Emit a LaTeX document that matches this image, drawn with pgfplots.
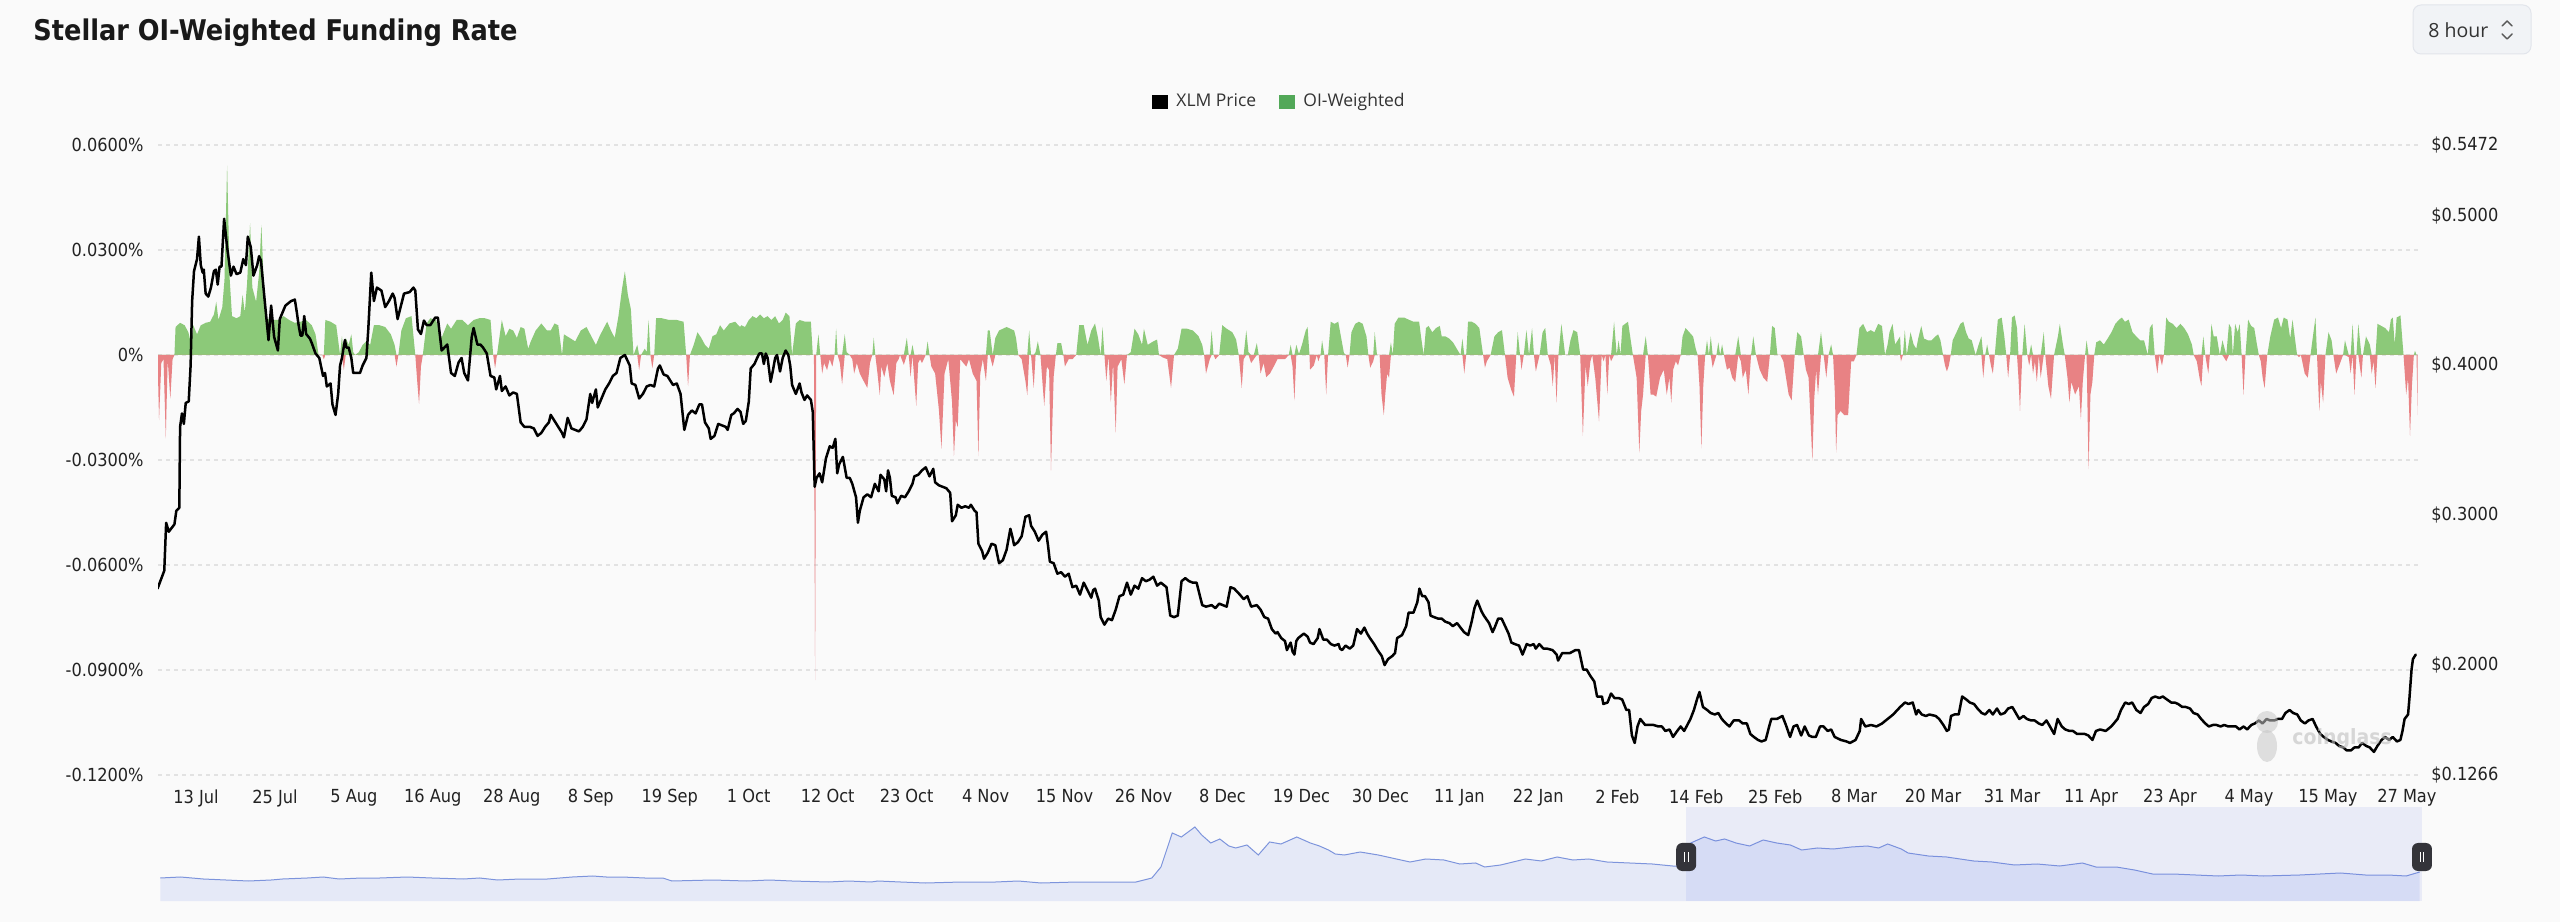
\documentclass[border=0pt]{standalone}
\usepackage{pgfplots}
\pgfplotsset{compat=1.18}
\usepackage{pgfplotstable}
\usepackage{fontspec}
\setmainfont{DejaVuSansCondensed}[Extension=.ttf, BoldFont=DejaVuSansCondensed-Bold]
\newfontfamily\legfont{Open Sans}
\definecolor{bgc}{RGB}{250,250,250}
\definecolor{gridc}{RGB}{226,226,226}
\definecolor{tickc}{RGB}{34,34,34}
\definecolor{greenc}{RGB}{140,201,121}
\definecolor{redc}{RGB}{232,130,132}
\definecolor{leggreen}{RGB}{82,168,88}
\definecolor{legtext}{RGB}{51,51,51}
\definecolor{navline}{RGB}{125,148,220}
\definecolor{navfill}{RGB}{229,233,247}
\definecolor{navsel}{RGB}{100,120,230}
\definecolor{handlec}{RGB}{52,52,58}
\definecolor{btnfill}{RGB}{241,243,246}
\definecolor{btndraw}{RGB}{226,229,235}

\pgfplotstableread{
d p
-5.52 0.251
-4.55 0.263
-4.28 0.295
-3.90 0.289
-3.09 0.294
-2.82 0.303
-2.39 0.305
-2.28 0.359
-2.01 0.368
-1.74 0.361
-1.47 0.375
-1.04 0.376
-0.77 0.400
-0.55 0.443
-0.28 0.463
0.15 0.471
0.42 0.486
0.69 0.467
0.96 0.462
1.12 0.464
1.39 0.448
1.77 0.446
2.15 0.452
2.58 0.463
2.85 0.464
3.12 0.454
3.39 0.466
3.66 0.466
4.04 0.498
4.47 0.479
5.01 0.460
5.39 0.466
5.82 0.461
6.36 0.462
6.79 0.471
7.17 0.467
7.44 0.486
7.87 0.479
8.25 0.460
8.79 0.467
9.06 0.473
9.33 0.470
9.87 0.443
10.41 0.417
10.79 0.440
11.22 0.419
11.76 0.410
12.03 0.431
12.84 0.440
13.65 0.443
14.19 0.444
14.46 0.436
14.73 0.427
15.00 0.420
15.27 0.420
15.54 0.433
15.81 0.421
16.35 0.418
16.62 0.415
17.16 0.408
17.70 0.405
18.24 0.393
18.52 0.395
18.78 0.386
19.32 0.388
19.59 0.374
20.03 0.367
20.41 0.381
20.68 0.400
20.95 0.405
21.38 0.417
21.59 0.412
21.92 0.412
22.30 0.405
22.57 0.395
23.11 0.395
23.54 0.395
23.92 0.400
24.46 0.405
24.73 0.424
25.16 0.462
25.54 0.443
25.97 0.452
26.62 0.450
27.16 0.439
27.70 0.443
28.24 0.448
28.51 0.445
28.94 0.431
29.32 0.438
29.86 0.448
30.67 0.449
31.21 0.452
31.48 0.450
31.86 0.424
32.29 0.421
32.72 0.430
33.10 0.427
33.64 0.427
34.34 0.432
34.72 0.432
35.26 0.410
36.07 0.414
36.61 0.395
37.15 0.393
37.69 0.402
38.12 0.405
38.50 0.395
39.04 0.390
39.58 0.419
39.85 0.425
40.39 0.414
40.82 0.414
41.20 0.412
41.74 0.408
42.28 0.393
42.82 0.392
43.09 0.384
43.63 0.393
43.90 0.383
44.44 0.386
44.98 0.380
45.52 0.382
46.06 0.381
46.60 0.362
47.14 0.359
47.41 0.359
47.95 0.359
48.49 0.358
49.03 0.353
49.57 0.355
50.11 0.359
50.65 0.362
50.92 0.367
51.46 0.363
52.00 0.359
52.54 0.355
52.81 0.352
53.35 0.365
53.89 0.358
54.43 0.357
54.97 0.356
55.51 0.359
56.05 0.364
56.59 0.381
56.86 0.375
57.40 0.384
57.67 0.372
58.21 0.378
58.75 0.384
59.29 0.388
59.83 0.393
60.37 0.395
60.91 0.405
61.56 0.407
62.26 0.400
62.53 0.388
63.07 0.387
63.61 0.378
64.15 0.381
64.69 0.386
65.23 0.387
65.77 0.386
66.31 0.398
66.58 0.400
67.12 0.394
67.66 0.393
68.47 0.387
69.01 0.388
69.55 0.381
70.09 0.357
70.63 0.367
71.17 0.370
71.71 0.368
72.25 0.374
72.63 0.374
73.06 0.362
73.60 0.358
73.87 0.351
74.42 0.353
74.96 0.361
76.04 0.359
76.31 0.357
76.84 0.367
77.19 0.368
77.73 0.371
78.16 0.369
78.54 0.361
78.92 0.363
79.35 0.376
79.62 0.398
80.16 0.401
80.54 0.405
80.86 0.408
81.24 0.408
81.51 0.401
81.78 0.408
82.05 0.405
82.48 0.389
82.86 0.398
83.13 0.405
83.40 0.407
83.83 0.396
84.21 0.405
84.64 0.410
85.02 0.407
85.29 0.400
85.56 0.387
86.10 0.381
86.64 0.388
86.91 0.382
87.34 0.377
87.72 0.380
88.26 0.377
88.53 0.369
88.80 0.319
89.07 0.325
89.50 0.328
89.88 0.322
90.42 0.338
90.96 0.346
91.39 0.345
91.77 0.351
92.04 0.328
92.31 0.334
92.85 0.339
93.39 0.325
93.83 0.325
94.20 0.321
94.74 0.312
95.01 0.295
95.28 0.303
95.82 0.312
96.36 0.314
96.90 0.312
97.44 0.321
97.98 0.316
98.25 0.327
98.79 0.324
99.06 0.316
99.33 0.330
99.60 0.325
99.87 0.313
100.41 0.312
100.68 0.308
101.22 0.313
101.76 0.312
102.30 0.316
102.84 0.321
103.11 0.326
103.66 0.327
104.20 0.330
104.74 0.332
105.28 0.326
105.82 0.331
106.09 0.322
106.63 0.320
107.17 0.319
107.71 0.318
108.25 0.315
108.52 0.296
109.06 0.300
109.33 0.307
109.87 0.305
110.41 0.306
110.95 0.305
111.22 0.307
111.76 0.303
112.03 0.302
112.30 0.281
112.84 0.276
113.11 0.271
113.65 0.275
114.19 0.281
114.73 0.280
115.27 0.268
115.81 0.270
116.35 0.277
116.89 0.291
117.16 0.286
117.43 0.280
117.97 0.282
118.51 0.286
119.05 0.299
119.59 0.300
119.86 0.293
120.40 0.289
120.94 0.283
121.48 0.287
122.02 0.289
122.29 0.280
122.56 0.269
123.10 0.268
123.64 0.261
124.18 0.262
124.72 0.259
125.26 0.261
125.80 0.252
126.34 0.253
126.88 0.247
127.42 0.255
127.96 0.250
128.50 0.245
128.77 0.250
129.04 0.251
129.58 0.243
129.85 0.232
130.39 0.227
130.93 0.231
131.47 0.230
132.01 0.237
132.55 0.246
133.09 0.247
133.63 0.255
134.17 0.247
134.71 0.253
135.25 0.251
135.79 0.258
136.33 0.256
136.87 0.257
137.41 0.259
137.95 0.253
138.49 0.255
139.30 0.252
139.84 0.233
140.38 0.232
140.92 0.233
141.46 0.256
142.00 0.258
142.54 0.256
143.08 0.255
143.62 0.255
144.43 0.240
144.97 0.239
145.78 0.240
146.32 0.238
146.86 0.241
147.40 0.240
147.94 0.239
148.48 0.252
149.02 0.251
149.83 0.247
150.37 0.244
150.91 0.246
151.45 0.239
152.26 0.240
152.80 0.237
153.34 0.232
153.88 0.231
154.42 0.224
154.96 0.221
155.23 0.222
155.77 0.218
156.31 0.216
156.58 0.210
157.12 0.215
157.39 0.209
157.66 0.207
157.93 0.216
158.20 0.218
159.01 0.221
159.55 0.219
159.90 0.215
160.40 0.214
161.00 0.218
161.25 0.224
161.80 0.217
162.30 0.217
162.90 0.214
163.40 0.213
164.00 0.214
164.20 0.211
164.50 0.210
165.00 0.213
165.60 0.211
166.10 0.213
166.65 0.224
167.20 0.221
167.70 0.225
168.10 0.221
168.50 0.218
169.10 0.214
169.60 0.210
170.20 0.206
170.60 0.200
171.10 0.204
171.70 0.206
172.10 0.208
172.40 0.218
173.10 0.220
173.70 0.226
174.05 0.235
174.75 0.235
175.30 0.242
175.60 0.251
176.00 0.246
176.40 0.246
176.90 0.242
177.20 0.233
177.70 0.232
178.30 0.231
178.80 0.231
179.30 0.229
179.90 0.228
180.40 0.226
181.00 0.228
181.50 0.225
182.00 0.222
182.60 0.220
183.10 0.229
183.50 0.238
183.90 0.243
184.50 0.236
184.85 0.233
185.60 0.228
186.10 0.222
186.40 0.225
186.90 0.231
187.40 0.231
188.00 0.225
188.40 0.221
188.80 0.215
189.30 0.214
189.90 0.213
190.40 0.207
191.00 0.214
191.50 0.213
192.00 0.214
192.30 0.211
192.80 0.214
193.40 0.211
193.90 0.211
194.70 0.210
195.30 0.207
195.50 0.203
196.10 0.208
196.60 0.208
197.20 0.208
198.00 0.210
198.50 0.210
199.10 0.197
199.60 0.197
200.10 0.193
200.70 0.189
201.10 0.179
201.80 0.179
202.00 0.174
202.60 0.175
203.10 0.181
203.60 0.178
204.20 0.178
204.70 0.177
205.30 0.170
205.70 0.170
206.10 0.153
206.50 0.148
206.90 0.159
207.30 0.164
208.00 0.160
208.50 0.160
209.20 0.160
209.90 0.159
210.40 0.159
210.90 0.156
211.50 0.157
212.00 0.152
212.60 0.156
213.10 0.159
213.60 0.156
214.50 0.164
215.00 0.170
215.50 0.178
215.80 0.182
216.30 0.172
216.90 0.170
217.40 0.168
218.00 0.167
218.50 0.168
219.00 0.164
219.60 0.161
220.10 0.159
220.70 0.163
221.50 0.163
222.00 0.161
222.60 0.161
223.10 0.154
223.60 0.152
224.20 0.150
224.70 0.149
225.30 0.150
225.80 0.159
226.10 0.164
226.90 0.164
227.70 0.166
228.20 0.160
228.80 0.152
229.30 0.159
229.80 0.160
230.40 0.153
230.90 0.159
231.50 0.153
232.00 0.152
232.50 0.152
233.10 0.159
233.60 0.159
234.20 0.156
234.70 0.157
235.20 0.152
236.10 0.150
236.90 0.149
237.40 0.148
238.20 0.150
238.80 0.156
239.00 0.164
239.60 0.159
240.40 0.160
241.20 0.159
242.00 0.161
242.80 0.164
243.60 0.167
244.60 0.172
245.30 0.175
245.80 0.174
246.40 0.175
246.90 0.167
247.20 0.170
247.70 0.167
248.30 0.166
248.80 0.167
249.70 0.166
250.20 0.164
250.80 0.160
251.30 0.156
251.60 0.157
251.90 0.166
252.40 0.167
253.00 0.167
253.50 0.179
254.10 0.177
254.60 0.175
255.20 0.174
255.70 0.171
256.30 0.168
256.80 0.167
257.40 0.170
257.90 0.167
258.50 0.171
259.00 0.167
259.60 0.168
260.10 0.171
260.70 0.172
261.20 0.168
261.70 0.164
262.30 0.166
262.80 0.164
263.40 0.163
263.90 0.163
264.50 0.161
265.00 0.160
265.60 0.163
266.10 0.159
266.70 0.154
267.20 0.164
267.80 0.159
268.30 0.157
268.90 0.156
269.40 0.156
270.00 0.154
270.50 0.154
271.10 0.154
271.60 0.153
272.20 0.150
272.70 0.156
273.30 0.157
274.10 0.156
274.90 0.159
275.80 0.164
276.30 0.170
276.90 0.175
277.40 0.174
277.90 0.175
278.50 0.170
279.10 0.168
279.60 0.172
280.20 0.174
280.70 0.178
281.20 0.179
281.80 0.178
282.30 0.179
282.90 0.177
283.50 0.175
284.00 0.175
284.50 0.174
285.10 0.172
285.60 0.172
286.20 0.171
286.70 0.168
287.30 0.167
287.80 0.164
288.40 0.161
288.90 0.159
289.50 0.160
290.00 0.160
290.60 0.159
291.10 0.160
291.70 0.159
292.20 0.159
292.80 0.159
293.30 0.157
293.90 0.159
294.40 0.157
295.00 0.160
295.50 0.161
296.10 0.163
296.60 0.161
297.20 0.164
297.70 0.163
298.30 0.163
298.80 0.164
299.40 0.164
299.90 0.168
300.50 0.170
301.00 0.168
301.60 0.167
302.10 0.163
302.70 0.161
303.20 0.163
303.80 0.164
304.30 0.159
304.90 0.154
305.40 0.152
306.00 0.150
306.50 0.149
307.10 0.148
307.60 0.146
308.20 0.145
308.70 0.143
309.30 0.143
309.80 0.145
310.40 0.145
310.90 0.148
311.50 0.146
312.00 0.145
312.60 0.142
313.10 0.146
313.70 0.150
314.20 0.152
314.80 0.150
315.30 0.152
315.90 0.149
316.40 0.150
316.70 0.156
317.00 0.164
317.50 0.167
317.70 0.178
318.00 0.197
318.20 0.204
318.60 0.207
}\price

\pgfplotstableread{
d f
-5.52 0
-5.30 -0.0186
-4.98 -0.0023
-4.66 -0.0012
-4.33 -0.0238
-4.06 -0.0012
-3.68 -0.0125
-3.36 -0.0012
-3.09 0
-2.93 0.0080
-2.28 0.0092
-1.63 0.0085
-1.09 0.0065
-0.66 0.0029
-0.39 0.0085
0.15 0.0059
0.69 0.0085
1.39 0.0092
2.04 0.0095
2.58 0.0116
2.91 0.0152
3.23 0.0100
3.77 0.0136
4.09 0.0213
4.47 0.0541
4.85 0.0213
5.17 0.0111
5.82 0.0105
6.36 0.0111
6.69 0.0172
7.01 0.0121
7.33 0.0203
7.77 0.0377
8.09 0.0193
8.63 0.0152
9.06 0.0234
9.39 0.0372
9.71 0.0213
10.14 0.0105
10.95 0.0100
11.76 0.0100
12.57 0.0111
13.38 0.0100
14.19 0.0092
15.00 0.0095
15.81 0.0100
16.62 0.0085
17.16 0.0059
17.60 0
18.14 0
18.35 -0.0012
18.57 0.0100
19.32 0.0095
20.13 0.0085
20.68 0
20.95 0.0054
21.22 -0.0043
21.49 0.0049
21.92 0.0029
22.30 0.0059
22.57 0.0008
22.84 0
23.38 0.0008
23.92 0.0029
24.46 0.0039
25.00 0.0029
25.54 0.0085
26.35 0.0085
27.16 0.0080
27.97 0.0059
28.51 0.0029
28.78 -0.0033
29.05 0
29.48 0.0070
30.13 0.0105
30.94 0.0111
31.48 0
31.75 -0.0074
32.02 -0.0140
32.29 -0.0033
32.56 0
33.10 0.0090
33.64 0.0105
34.45 0.0100
35.26 0.0049
36.07 0.0090
36.61 0.0075
37.42 0.0100
38.23 0.0100
39.04 0.0085
39.85 0.0100
40.66 0.0105
41.47 0.0105
42.28 0.0100
42.66 0
42.93 -0.0038
43.20 0
43.90 0.0100
44.44 0.0054
44.98 0.0075
45.52 0.0070
46.06 0.0049
46.60 0.0080
47.14 0.0075
47.68 0.0018
48.06 0.0039
48.76 0.0070
49.57 0.0090
50.38 0.0070
50.92 0.0070
51.46 0.0090
52.00 0.0085
52.54 0
52.81 0.0059
53.62 0.0049
54.43 0.0039
55.24 0.0070
56.05 0.0080
56.86 0.0049
57.40 0.0029
57.94 0.0054
58.48 0.0075
59.02 0.0095
59.56 0.0070
60.10 0.0049
60.64 0.0111
61.18 0.0193
61.56 0.0239
61.99 0.0172
62.42 0.0131
62.80 0
63.34 0.0029
63.61 -0.0043
63.88 0
64.42 0.0018
64.69 0.0008
64.96 0.0100
65.23 0
65.50 -0.0038
65.77 0
66.04 0.0105
66.85 0.0105
67.93 0.0100
69.01 0.0100
69.99 0.0095
70.36 0
70.63 -0.0089
70.90 0
71.44 0.0029
71.98 0.0065
72.52 0.0049
73.06 0.0029
73.60 0.0018
74.14 0.0054
74.68 0.0059
75.22 0.0085
75.76 0.0070
76.57 0.0090
77.38 0.0095
78.09 0.0080
78.27 0.0085
78.81 0.0080
79.35 0.0100
79.89 0.0111
80.43 0.0105
80.97 0.0116
81.51 0.0105
82.05 0.0111
82.59 0.0100
83.13 0.0111
83.67 0.0090
84.21 0.0100
84.64 0.0121
85.18 0.0111
85.56 0
86.10 0.0090
86.64 0.0100
87.45 0.0095
88.26 0.0095
88.53 0
88.70 0
88.86 -0.0929
89.02 0
89.34 0.0059
89.61 0
89.88 -0.0053
90.15 -0.0023
90.58 -0.0043
90.96 -0.0012
91.34 -0.0033
91.66 0
91.88 0.0075
92.10 0
92.42 -0.0023
92.74 -0.0084
93.12 0.0059
93.39 0.0008
93.83 0
94.20 -0.0012
94.47 -0.0053
94.85 -0.0023
95.28 -0.0053
95.82 -0.0074
96.36 -0.0094
96.74 -0.0023
97.07 0
97.28 0.0049
97.50 0
97.82 -0.0053
98.15 -0.0115
98.36 -0.0033
98.79 -0.0063
99.23 -0.0023
99.60 -0.0074
100.14 -0.0115
100.52 -0.0023
100.85 -0.0012
101.06 0
101.60 -0.0028
102.03 0.0049
102.30 0
102.57 -0.0063
102.84 0.0029
103.11 -0.0074
103.38 -0.0145
103.66 -0.0023
103.93 -0.0012
104.20 -0.0023
104.74 0
105.01 0.0039
105.28 0
105.55 -0.0033
106.09 -0.0053
106.63 -0.0156
107.00 -0.0268
107.44 -0.0053
107.98 -0.0012
108.52 -0.0135
108.79 -0.0289
109.06 -0.0186
109.33 -0.0207
109.70 -0.0012
110.14 -0.0023
110.57 -0.0033
110.95 -0.0012
111.49 -0.0053
112.03 -0.0074
112.30 -0.0289
112.57 -0.0053
112.94 -0.0012
113.38 -0.0074
113.65 0.0070
113.92 0.0070
114.35 -0.0033
114.73 0.0049
115.27 0.0070
115.81 0.0075
116.35 0.0080
116.89 0.0075
117.43 0.0070
117.70 0.0049
118.02 0
118.51 -0.0012
119.05 -0.0074
119.32 -0.0115
119.59 0.0070
119.86 0
120.24 -0.0094
120.51 0.0008
120.83 0.0039
121.21 0
121.48 -0.0074
121.75 -0.0145
122.13 -0.0033
122.45 -0.0043
122.72 -0.0330
123.10 -0.0063
123.42 0
123.64 0.0034
124.18 0.0034
124.50 0
124.72 -0.0033
125.26 -0.0012
125.80 -0.0012
126.34 0
126.77 0.0085
127.42 0.0085
127.96 0.0029
128.50 0.0070
129.04 0.0090
129.47 0.0049
129.85 0
130.12 0.0080
130.39 0
130.66 -0.0074
130.98 -0.0002
131.31 -0.0135
131.63 -0.0023
132.01 -0.0222
132.28 -0.0033
132.82 -0.0012
133.25 -0.0084
133.63 0
134.17 0.0008
134.71 0.0075
135.25 0.0059
135.79 0.0029
136.06 0.0075
136.60 0.0029
137.41 0.0039
137.95 0.0044
138.22 0
138.76 -0.0007
139.41 -0.0012
139.95 -0.0094
140.38 0
140.92 0.0018
141.46 0.0075
142.27 0.0075
143.08 0.0070
143.89 0.0054
144.43 0.0029
144.70 0
144.97 -0.0053
145.51 -0.0012
145.78 0.0070
146.05 0
146.32 -0.0012
146.86 0
147.30 0.0085
147.94 0.0075
148.75 0.0065
149.29 0.0044
149.67 0
150.10 -0.0094
150.37 -0.0012
150.75 0.0070
151.07 0.0008
151.45 -0.0023
151.83 -0.0012
152.26 0.0034
152.53 0
152.80 -0.0053
153.24 -0.0023
153.61 -0.0063
154.15 -0.0053
154.69 -0.0033
155.23 -0.0012
155.77 -0.0012
156.31 -0.0012
156.85 0
157.12 0.0029
157.39 -0.0033
157.66 -0.0130
157.93 0.0029
158.31 0.0003
158.74 0.0029
159.28 0.0070
159.55 0.0080
159.82 0
159.90 -0.0042
160.44 -0.0030
160.87 0
161.09 -0.0018
161.41 0
161.63 0.0042
161.95 0
162.22 -0.0113
162.49 0
162.87 0.0095
163.41 0.0089
163.95 0.0095
164.33 0.0053
164.76 0.0006
165.03 0
165.30 -0.0036
165.57 0
165.84 0.0065
166.38 0.0089
166.92 0.0095
167.46 0.0089
168.00 0.0053
168.27 0
168.54 -0.0036
168.97 -0.0018
169.19 0.0065
169.51 0
169.89 0
170.16 -0.0113
170.49 -0.0172
170.70 -0.0113
170.97 -0.0053
171.24 -0.0065
171.51 0.0036
171.78 0
172.05 0.0089
172.59 0.0107
173.40 0.0107
174.05 0.0101
174.75 0.0095
175.56 0.0095
175.83 0.0053
176.21 0
176.54 0.0077
176.91 0.0083
177.45 0.0065
177.99 0.0077
178.53 0.0083
178.80 0.0053
179.34 0.0053
179.88 0.0047
180.42 0.0036
180.96 0.0018
181.50 0
181.77 0.0047
182.04 -0.0053
182.31 0
182.58 0.0095
183.12 0.0095
183.66 0.0089
184.20 0.0077
184.74 0
185.01 -0.0036
185.28 -0.0018
185.82 0
186.36 0.0053
186.90 0.0065
187.45 0.0071
187.88 0
188.26 -0.0065
188.80 -0.0101
189.17 -0.0119
189.50 0
189.71 0.0065
190.04 0
190.25 -0.0042
190.58 0
190.96 0.0071
191.33 0
191.77 0.0077
192.04 0
192.31 -0.0047
192.85 0
193.28 0.0065
193.66 0.0077
194.03 0
194.47 -0.0030
194.74 -0.0089
195.01 0
195.28 -0.0136
195.55 0
195.98 0.0089
196.52 0
196.90 0
197.28 0.0042
197.71 0.0071
198.25 0.0065
198.68 0
199.06 -0.0231
199.44 -0.0030
199.76 -0.0089
200.14 -0.0018
200.41 0
200.84 -0.0065
201.38 -0.0190
201.76 0
202.03 -0.0018
202.30 0
202.57 -0.0113
202.84 0
203.11 -0.0018
203.54 0.0095
203.92 0
204.19 0.0042
204.46 0
204.73 0.0083
205.54 0.0095
206.24 0
206.78 -0.0065
207.16 -0.0279
207.43 -0.0160
207.70 -0.0113
208.08 0.0053
208.40 0
208.78 -0.0113
209.16 -0.0113
209.59 -0.0119
210.13 -0.0065
210.67 -0.0042
211.10 -0.0113
211.48 -0.0065
211.75 -0.0136
212.02 -0.0042
212.40 -0.0018
212.72 -0.0030
213.10 0
213.37 0.0053
213.80 0.0077
214.34 0.0065
214.88 0.0053
215.26 0.0018
215.53 0
215.80 -0.0089
216.07 -0.0267
216.34 -0.0089
216.61 0
216.88 0.0042
217.15 0
217.42 0.0053
217.69 -0.0036
218.23 0
218.50 0.0036
218.77 0
219.04 0.0030
219.31 0
219.74 -0.0042
220.12 -0.0036
220.50 -0.0065
220.93 -0.0077
221.36 0.0053
221.74 -0.0018
222.01 -0.0065
222.44 -0.0042
222.82 -0.0113
223.20 0
223.52 0.0053
223.90 0
224.44 -0.0042
224.98 -0.0065
225.52 -0.0077
225.90 0
226.22 0.0083
226.60 0.0077
226.98 0
227.41 0
227.84 -0.0018
228.22 -0.0065
228.60 -0.0113
229.03 -0.0130
229.46 0
229.84 0.0065
230.38 0.0053
230.76 0
231.08 -0.0042
231.46 -0.0065
231.73 -0.0184
232.00 -0.0302
232.27 -0.0125
232.54 -0.0042
232.81 -0.0113
233.24 0.0065
233.62 0
234.00 -0.0065
234.32 0
234.70 0.0030
234.97 0
235.24 -0.0113
235.41 -0.0279
235.62 -0.0172
236.05 -0.0160
236.59 -0.0172
237.13 -0.0172
237.57 -0.0018
237.95 -0.0018
238.33 0
238.75 0.0077
239.29 0.0089
239.84 0.0065
240.37 0.0071
240.91 0.0065
241.45 0.0089
241.99 0.0083
242.43 0
242.80 0.0030
243.07 0.0065
243.51 0.0089
243.88 0.0030
244.59 0.0053
244.72 -0.0018
245.00 0
245.27 0.0071
245.55 0
246.09 0.0065
246.53 0.0030
246.92 0.0018
247.19 0.0047
247.63 0.0083
248.02 0.0047
248.57 0.0042
249.12 0.0042
249.66 0.0053
250.05 0.0059
250.38 0.0042
250.76 0
251.04 -0.0030
251.31 -0.0047
251.59 -0.0030
251.86 0
252.14 0.0042
252.69 0.0065
253.24 0.0089
253.67 0.0095
254.06 0.0065
254.44 0.0047
254.88 0.0042
255.43 0
255.87 0.0030
256.26 0.0053
256.53 -0.0065
256.81 0
257.08 0.0030
257.36 0
257.63 -0.0030
257.90 -0.0053
258.18 0
258.62 0.0101
259.17 0.0107
259.55 0.0053
259.83 0
260.10 -0.0065
260.38 0
260.65 0.0107
261.03 0.0113
261.37 0.0077
261.58 -0.0065
261.80 -0.0160
262.13 0
262.46 0.0089
262.85 0
263.12 -0.0030
263.40 0.0030
263.67 -0.0053
263.95 -0.0018
264.22 -0.0077
264.50 0
264.77 -0.0065
265.21 0.0065
265.43 0
265.87 -0.0089
266.25 -0.0125
266.69 0
267.24 0.0053
267.52 0.0089
267.96 0.0030
268.23 0
268.62 -0.0065
268.89 -0.0136
269.17 -0.0077
269.71 -0.0113
270.26 -0.0089
270.54 -0.0184
270.81 -0.0077
271.14 0
271.36 0.0042
271.64 -0.0326
271.91 -0.0113
272.19 -0.0077
272.46 0
272.74 0.0036
273.28 0.0042
273.83 0.0030
274.38 0.0047
274.93 0.0065
275.48 0.0089
276.03 0.0101
276.42 0.0107
276.86 0.0095
277.40 0.0101
277.95 0.0065
278.50 0.0053
279.05 0.0042
279.60 0.0042
280.15 0
280.43 0.0077
280.81 0.0089
281.14 0
281.52 -0.0053
281.80 0
282.18 -0.0030
282.46 0
282.79 0.0107
283.17 0.0095
283.72 0.0089
284.27 0.0077
284.82 0.0089
285.37 0.0077
285.92 0.0059
286.47 0.0030
286.74 0
287.18 -0.0018
287.57 -0.0065
287.84 -0.0089
288.12 0.0053
288.39 0
288.83 -0.0053
289.05 0
289.27 0.0089
289.60 0.0053
290.04 0.0053
290.48 0
290.86 0.0042
291.41 -0.0018
291.80 0.0089
292.13 0.0077
292.35 0
292.68 0.0089
293.06 0.0065
293.33 0.0089
293.61 0
293.88 -0.0113
294.16 0
294.54 0.0101
294.98 0.0083
295.42 0.0077
295.81 0.0030
296.08 0
296.36 -0.0018
296.63 -0.0065
296.91 -0.0095
297.29 0
297.73 0.0053
298.28 0.0101
298.83 0.0107
299.27 0.0077
299.65 0.0107
300.20 0.0101
300.58 0.0047
300.92 0.0101
301.30 0.0042
301.57 0
301.85 -0.0006
302.12 0
302.67 -0.0053
303.11 -0.0065
303.50 0
303.77 0.0042
304.21 0.0107
304.43 0
304.76 -0.0160
304.98 -0.0077
305.31 -0.0136
305.64 0
306.08 0.0065
306.52 0.0042
306.79 0
307.18 -0.0053
307.62 -0.0030
308.17 0
308.44 0.0042
308.99 -0.0006
309.26 -0.0053
309.54 0.0089
309.81 -0.0113
310.09 0
310.36 0.0089
310.80 -0.0065
311.02 0
311.46 0.0053
312.01 0.0030
312.28 -0.0053
312.56 -0.0018
312.83 -0.0095
313.11 0.0089
313.66 0.0083
314.21 0.0077
314.76 0.0065
315.03 0.0101
315.31 0.0107
315.58 0.0030
315.86 0.0107
316.41 0.0113
316.85 0
317.23 -0.0113
317.50 -0.0065
317.78 -0.0231
318.05 -0.0089
318.33 0
318.49 0.0012
318.71 0
318.88 -0.0172
}\fund

\pgfplotstableread{
x y
0.1 23
1.0 24
2.0 22
3.0 21
4.0 20
5.0 21
5.5 22
6.6 23
7.3 24
8.0 22
9.0 23
9.8 23
11.0 24
12.1 23
13.5 22
14.2 23
15.0 21
16.0 22
17.2 22
18.3 24
19.2 25
19.8 24
20.5 24
21.5 23
22.3 23
22.7 20
24.5 21
26.0 20
27.0 21
28.0 20
29.6 19
30.5 20
31.5 19
31.8 20
32.8 19
33.9 18
35.5 19
37.0 19
38.0 20
39.0 18
40.6 19
42.0 19
43.2 19
43.9 23
44.3 34
44.8 68
45.2 64
45.8 74
46.1 66
46.5 58
46.9 62
47.3 55
47.6 53
48.1 56
48.6 46
49.1 59
49.6 57
50.3 64
50.9 58
51.3 55
51.7 51
52.0 47
52.4 46
53.1 49
53.9 46
54.5 43
55.3 39
56.0 42
56.8 41
57.5 37
58.2 38
58.6 34
59.3 36
60.4 42
61.1 40
61.8 44
62.5 41
63.2 42
64.0 39
65.0 38
66.0 37
66.9 35
67.4 35
67.7 58
68.3 64
68.8 60
69.2 62
69.7 58
70.3 55
70.9 61
71.5 58
72.1 56
72.6 51
73.3 53
74.0 52
74.8 54
75.5 55
76.0 53
76.4 57
77.0 52
77.3 48
78.2 45
79.0 44
80.2 40
81.0 39
82.0 36
83.0 37
84.0 35
85.0 38
85.6 34
86.5 34
87.3 31
88.1 27
89.0 27
90.0 26
91.0 25
92.0 26
93.0 25
94.6 26
95.5 27
96.4 28
97.5 26
98.5 26
99.3 25
99.9 29
}\nav

\begin{document}
\begin{tikzpicture}
\useasboundingbox (0,0) rectangle (1280pt,461pt);
\fill[bgc] (0,0) rectangle (1280pt,461pt);

% title
\node[anchor=base west, inner sep=0pt, text=black!90] at (16.5pt,440.5pt)
  {\fontsize{14.25pt}{16pt}\selectfont\bfseries Stellar OI-Weighted Funding Rate};

% button
\filldraw[fill=btnfill, draw=btndraw, line width=0.5pt, rounded corners=4pt]
  (1206.5pt,434pt) rectangle (1265.5pt,458.5pt);
\node[anchor=base west, inner sep=0pt, text=legtext] at (1214pt,442pt)
  {\legfont\fontsize{9.75pt}{11pt}\selectfont 8 hour};
\draw[line width=0.7pt, color=black!65, line cap=round, line join=round]
  (1251pt,448pt) -- (1253.5pt,450.5pt) -- (1256pt,448pt);
\draw[line width=0.7pt, color=black!65, line cap=round, line join=round]
  (1251pt,444pt) -- (1253.5pt,441.5pt) -- (1256pt,444pt);

% legend
\fill[black] (576pt,406.5pt) rectangle (584pt,413.5pt);
\node[anchor=base west, inner sep=0pt, text=legtext] at (588pt,407.5pt)
  {\legfont\fontsize{8.75pt}{10pt}\selectfont XLM Price};
\fill[leggreen] (639.5pt,406.5pt) rectangle (647.5pt,413.5pt);
\node[anchor=base west, inner sep=0pt, text=legtext] at (651.5pt,407.5pt)
  {\legfont\fontsize{8.75pt}{10pt}\selectfont OI-Weighted};

\begin{axis}[
  at={(79pt,73.5pt)}, anchor=south west, scale only axis,
  width=1132pt, height=315pt,
  xmin=-5.45, xmax=319.5, ymin=-0.12, ymax=0.06,
  axis line style={draw=none}, tick style={draw=none}, major tick length=0pt,
  /pgf/number format/assume math mode=true,
  ytick={-0.12,-0.09,-0.06,-0.03,0,0.03,0.06},
  yticklabels={-0.1200\%,-0.0900\%,-0.0600\%,-0.0300\%,0\%,0.0300\%,0.0600\%},
  ymajorgrids,
  major grid style={draw=gridc, line width=0.6pt, dash pattern=on 2pt off 2pt},
  xtick={0,11.333,22.667,34,45.333,56.667,68,79.333,90.667,102,113.333,124.667,136,147.333,158.667,170,181.333,192.667,204,215.333,226.667,238,249.333,260.667,272,283.333,294.667,306,317.333},
  xticklabels={13 Jul,25 Jul,5 Aug,16 Aug,28 Aug,8 Sep,19 Sep,1 Oct,12 Oct,23 Oct,4 Nov,15 Nov,26 Nov,8 Dec,19 Dec,30 Dec,11 Jan,22 Jan,2 Feb,14 Feb,25 Feb,8 Mar,20 Mar,31 Mar,11 Apr,23 Apr,4 May,15 May,27 May},
  tick label style={font=\fontsize{9pt}{10pt}\selectfont, text=tickc},
  yticklabel style={anchor=east, inner sep=0pt, xshift=-7pt},
  xticklabel style={anchor=north, inner sep=0pt, yshift=-7pt},
]
\addplot[draw=none, fill=greenc] table[x=d, y expr={max(\thisrow{f},0)}] {\fund} \closedcycle;
\addplot[draw=none, fill=redc] table[x=d, y expr={min(\thisrow{f},0)}] {\fund} \closedcycle;
\end{axis}

\begin{axis}[
  at={(79pt,73.5pt)}, anchor=south west, scale only axis,
  width=1132pt, height=315pt,
  xmin=-5.45, xmax=319.5, ymin=0.1266, ymax=0.5472,
  axis y line*=right, axis x line=none,
  axis line style={draw=none}, tick style={draw=none}, major tick length=0pt,
  /pgf/number format/assume math mode=true,
  ytick={0.1266,0.2,0.3,0.4,0.5,0.5472},
  yticklabels={\$0.1266,\$0.2000,\$0.3000,\$0.4000,\$0.5000,\$0.5472},
  yticklabel style={anchor=west, inner sep=0pt, xshift=4.5pt, font=\fontsize{9pt}{10pt}\selectfont, text=tickc},
]
\addplot[black, line width=1.25pt, line join=round, line cap=round] table[x=d, y=p] {\price};
\end{axis}

% watermark
\fill[black!22, opacity=0.55] (1133.5pt,100pt) circle (5.5pt);
\fill[black!22, opacity=0.55] (1133.5pt,88pt) ellipse (5pt and 8pt);
\node[anchor=base west, inner sep=0pt, text=black!25, opacity=0.6] at (1146pt,89pt)
  {\fontsize{10.5pt}{12pt}\selectfont\bfseries coinglass};

% navigator
\begin{axis}[
  at={(79pt,10.5pt)}, anchor=south west, scale only axis,
  width=1132pt, height=47pt,
  xmin=0, xmax=100, ymin=0, ymax=94, hide axis, clip=false,
]
\addplot[draw=none, fill=navfill] table[x=x, y=y] {\nav} \closedcycle;
\addplot[navline, line width=0.5pt] table[x=x, y=y] {\nav};
\fill[navsel, opacity=0.11] (axis cs:67.5,0) rectangle (axis cs:100,94);
\fill[handlec, rounded corners=3pt] (axis cs:67.06,30) rectangle (axis cs:67.94,58);
\fill[handlec, rounded corners=3pt] (axis cs:99.56,30) rectangle (axis cs:100.44,58);
\draw[white, line width=0.4pt] (axis cs:67.42,39) -- (axis cs:67.42,49);
\draw[white, line width=0.4pt] (axis cs:67.58,39) -- (axis cs:67.58,49);
\draw[white, line width=0.4pt] (axis cs:99.92,39) -- (axis cs:99.92,49);
\draw[white, line width=0.4pt] (axis cs:100.08,39) -- (axis cs:100.08,49);
\end{axis}
\end{tikzpicture}
\end{document}
